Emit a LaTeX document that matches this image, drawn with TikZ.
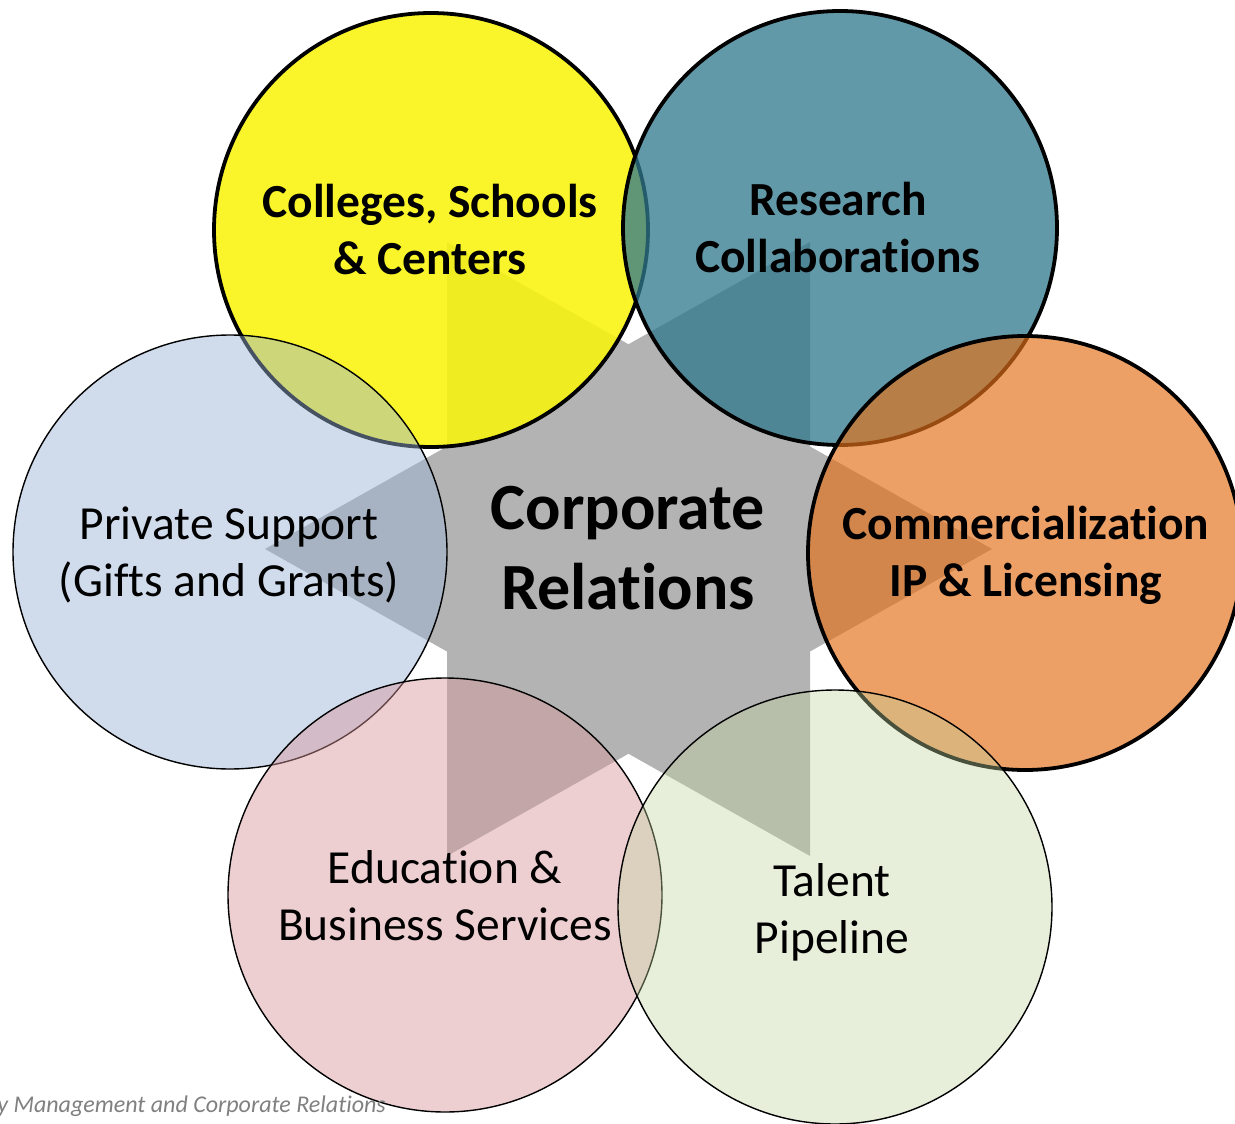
\documentclass[tikz,border=0pt]{standalone}
\usepackage{fontspec}
\setmainfont{Carlito}[Ligatures=CommonOff]
\definecolor{cyellow}{RGB}{248,244,13}
\definecolor{cteal}{RGB}{48,121,142}
\definecolor{corange}{RGB}{228,113,25}
\definecolor{cblue}{RGB}{153,179,214}
\definecolor{cpink}{RGB}{216,151,155}
\definecolor{cgreen}{RGB}{192,213,160}
\definecolor{cstar}{RGB}{179,179,179}
\definecolor{cfoot}{RGB}{128,128,128}
\begin{document}
\begin{tikzpicture}[x=1pt,y=-1pt,
  bubble/.style={circle, minimum size=434pt, inner sep=0pt, draw=black},
  thickrim/.style={line width=3.8pt},
  thinrim/.style={line width=1.4pt},
  lbl/.style={align=center, inner sep=0pt},
  boldlbl/.style={lbl, font=\fontsize{47.5}{57}\selectfont\bfseries},
  plainlbl/.style={lbl, font=\fontsize{47.5}{57}\selectfont},
  starfill/.style={fill=cstar}]
\useasboundingbox (0,0) rectangle (1235,1124);
\clip (0,0) rectangle (1235,1124);
% central six-pointed star
\fill[starfill] (992,549) -- (447,242) -- (447,856) -- cycle;
\fill[starfill] (265,549) -- (810,242) -- (810,856) -- cycle;
% circles
\node[bubble, thickrim, fill=cyellow, fill opacity=0.88] (colleges) at (431,230) {};
\node[bubble, thickrim, fill=cteal, fill opacity=0.76] (research) at (840,228) {};
\node[bubble, thickrim, fill=corange, fill opacity=0.67] (commerce) at (1025,553) {};
\node[bubble, thinrim, fill=cblue, fill opacity=0.46] (private) at (230,552) {};
\node[bubble, thinrim, fill=cpink, fill opacity=0.46] (education) at (445,895) {};
\node[bubble, thinrim, fill=cgreen, fill opacity=0.38] (talent) at (835,907) {};
% labels
\node[boldlbl] (collegeslbl) at (430,230) {Colleges, Schools\\\& Centers};
\node[boldlbl] (researchlbl) at (838,228) {Research\\Collaborations};
\node[boldlbl] (commercelbl) at (1026,555) {Commercialization\\IP \& Licensing};
\node[plainlbl] (privatelbl) at (229,555) {Private Support\\(Gifts and Grants)};
\node[plainlbl] (educationlbl) at (445,896) {Education \&\\Business Services};
\node[plainlbl] (talentlbl) at (832,912) {Talent\\Pipeline};
% centre label
\node[lbl, font=\fontsize{66}{80}\selectfont\bfseries] (corp) at (628,548) {Corporate\\Relations};
% footer
\node[anchor=base east, text=cfoot, font=\fontsize{24}{28}\selectfont\itshape, inner sep=0pt] (footer) at (386,1112) {y Management and Corporate Relations};
\end{tikzpicture}
\end{document}
